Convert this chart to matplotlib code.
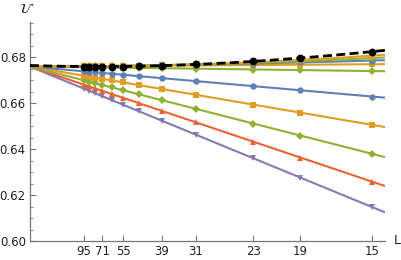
import numpy as np
import matplotlib
matplotlib.use('Agg')
import matplotlib.pyplot as plt
from matplotlib.ticker import MultipleLocator, FixedLocator, NullLocator

# System sizes (x axis is 1/L)
L = [15, 19, 23, 31, 39, 47, 55, 63, 71, 79, 87, 95]
tick_L = [95, 71, 55, 39, 31, 23, 19, 15]

# lower fan of series
blue_low = [0.6629, 0.6657, 0.6675, 0.6697, 0.6710, 0.6718, 0.6724, 0.6729, 0.6732, 0.6735, 0.6737, 0.6739]
orange_low = [0.6506, 0.6560, 0.6594, 0.6637, 0.6662, 0.6679, 0.6691, 0.6700, 0.6706, 0.6712, 0.6716, 0.6720]
green_low = [0.6380, 0.6460, 0.6512, 0.6576, 0.6614, 0.6639, 0.6656, 0.6670, 0.6680, 0.6688, 0.6694, 0.6700]
red_low = [0.6259, 0.6364, 0.6433, 0.6518, 0.6567, 0.6600, 0.6623, 0.6641, 0.6654, 0.6665, 0.6674, 0.6681]
purple_low = [0.6148, 0.6277, 0.6361, 0.6464, 0.6525, 0.6565, 0.6593, 0.6614, 0.6631, 0.6644, 0.6654, 0.6663]

# upper bundle of series
green_top2 = [0.6740, 0.6745, 0.6747, 0.6751, 0.6753, 0.6754, 0.6755, 0.6756, 0.6756, 0.6757, 0.6757, 0.6757]
orange_top2 = [0.6770, 0.6768, 0.6767, 0.6765, 0.6764, 0.6763, 0.6763, 0.6762, 0.6762, 0.6762, 0.6762, 0.6762]
blue_top = [0.6786, 0.6778, 0.6773, 0.6768, 0.6766, 0.6764, 0.6763, 0.6762, 0.6762, 0.6761, 0.6761, 0.6761]
green_top = [0.6797, 0.6783, 0.6776, 0.6769, 0.6766, 0.6764, 0.6763, 0.6762, 0.6762, 0.6761, 0.6761, 0.6761]
orange_top = [0.6808, 0.6788, 0.6778, 0.6770, 0.6766, 0.6764, 0.6763, 0.6762, 0.6762, 0.6761, 0.6761, 0.6761]
black = [0.6825, 0.6797, 0.6782, 0.6770, 0.6764, 0.6761, 0.6760, 0.6760, 0.6760, 0.6760, 0.6760, 0.6760]

BLUE = '#5E81B5'
ORANGE = '#E19C24'
GREEN = '#8FB032'
RED = '#EB6235'
PURPLE = '#8778B3'

series = [
    (purple_low, PURPLE, 'v', 1),
    (red_low, RED, '^', 1),
    (green_low, GREEN, 'D', 1),
    (orange_low, ORANGE, 's', 1),
    (blue_low, BLUE, 'o', 1),
    (green_top2, GREEN, 'D', 1),
    (orange_top2, ORANGE, 's', 2),
    (blue_top, BLUE, 'o', 2),
    (green_top, GREEN, 'D', 2),
    (orange_top, ORANGE, 's', 2),
]
msizes = {'v': 4.8, '^': 4.8, 'D': 3.9, 's': 3.7, 'o': 4.6}

fig = plt.figure(figsize=(4.01, 2.60), dpi=100)
ax = fig.add_axes([30/401, 1-241.3/260, (385-30)/401, (241.3-21.7)/260])

x = 1.0/np.array(L, dtype=float)
xmax = 0.0691
xx = np.linspace(0, xmax, 300)

for vals, c, m, deg in series:
    p = np.polyfit(x, vals, deg)
    ax.plot(xx, np.polyval(p, xx), color=c, lw=1.5, zorder=2, solid_capstyle='butt')
    ax.plot(x, vals, ls='none', marker=m, color=c, ms=msizes[m], mew=0, zorder=3)

pb = np.polyfit(x, black, 3)
ax.plot(xx, np.polyval(pb, xx), color='black', lw=2.0, ls=(0, (3.2, 1.6)), zorder=4)
ax.plot(x, black, ls='none', marker='o', color='black', ms=5.6, mew=0, zorder=5)

ax.set_xlim(0, xmax)
ax.set_ylim(0.6, 0.6955)

ax.xaxis.set_major_locator(FixedLocator([1.0/v for v in tick_L]))
ax.set_xticklabels([str(v) for v in tick_L])
ax.xaxis.set_minor_locator(NullLocator())
ax.yaxis.set_major_locator(MultipleLocator(0.02))
ax.yaxis.set_minor_locator(MultipleLocator(0.005))
ax.yaxis.set_major_formatter(matplotlib.ticker.FormatStrFormatter('%.2f'))

for s in ['top', 'right']:
    ax.spines[s].set_visible(False)
for s in ['left', 'bottom']:
    ax.spines[s].set_color('#777777')
    ax.spines[s].set_linewidth(0.9)

ax.tick_params(which='major', direction='in', length=4, width=0.8, color='#777777',
               labelsize=8.5, labelcolor='#222222', pad=3)
ax.tick_params(which='minor', direction='in', length=2.5, width=0.6, color='#777777')

fig.text(397/401, 1-241/260, 'L', ha='center', va='center', fontsize=9, color='#222222')
fig.text(27/401, 1-9/260, r'$\mathcal{U}$', ha='center', va='center', fontsize=10, color='#222222')

fig.savefig('out.png', dpi=100)
